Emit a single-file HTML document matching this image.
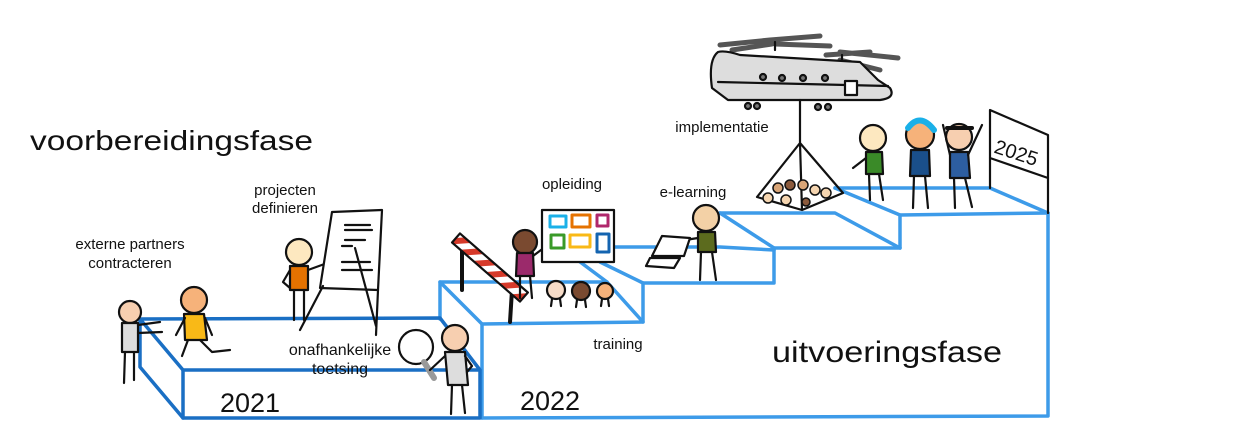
<!DOCTYPE html>
<html><head><meta charset="utf-8"><style>
html,body{margin:0;padding:0;background:#fff;width:1250px;height:448px;overflow:hidden}
svg{display:block}
text{font-family:"Liberation Sans",sans-serif;fill:#111}
</style></head><body>
<svg width="1250" height="448" viewBox="0 0 1250 448" xmlns="http://www.w3.org/2000/svg">
<defs>
<pattern id="stripe" width="12" height="12" patternUnits="userSpaceOnUse" patternTransform="rotate(45)">
<rect width="12" height="12" fill="#fff"/><rect width="6" height="12" fill="#d63a2a"/>
</pattern>
</defs>
<g fill="none" stroke-linejoin="round" stroke-linecap="round">
<!-- light blue stairs -->
<g stroke="#3d9be9" stroke-width="3.5">
<path d="M482 418 L1048 416 L1048 213"/>
<path d="M440 319 L440 282 L482 324 L482 418"/>
<path d="M440 282 L607 282 L643 322 L482 324"/>
<path d="M643 322 L643 283 L774 283 L774 248 L900 248 L900 215 L1048 213"/>
<path d="M580 247 L720 247 L774 250"/>
<path d="M560 247 L607 282"/>
<path d="M643 283 L600 262"/>
<path d="M720 213 L835 213 L900 248"/>
<path d="M720 213 L774 248"/>
<path d="M835 188 L990 188 L1048 213"/>
<path d="M835 188 L900 215"/>
</g>
<!-- dark blue box -->
<g stroke="#1a6fc4" stroke-width="3.5">
<path d="M140 319 L440 318 L480 370 L183 370 L140 319 L140 367 L183 418 L480 418 L480 370"/>
<path d="M183 370 L183 418"/>
</g>
<g stroke="#111" stroke-width="2.2">
<!-- person 1 -->
<circle cx="130" cy="312" r="11" fill="#f7cfb0"/>
<path d="M122 323 L138 323 L138 352 L122 352 Z" fill="#ddd"/>
<path d="M125 352 L124 383 M134 352 L134 380 M138 325 L160 322 M138 333 L162 332"/>
<!-- person 2 -->
<circle cx="194" cy="300" r="13" fill="#f6b27a"/>
<path d="M184 314 L204 314 L207 340 L185 340 Z" fill="#f9b917"/>
<path d="M188 340 L182 356 M200 340 L212 352 L230 350 M185 318 L176 335 M205 318 L212 335"/>
<!-- person 3 -->
<circle cx="299" cy="252" r="13" fill="#fde8c0"/>
<path d="M290 266 L308 266 L308 290 L290 290 Z" fill="#e57200"/>
<path d="M294 290 L294 320 M304 290 L304 320 M308 270 L330 262 M290 270 L283 282 L290 288"/>
<!-- flipchart -->
<path d="M332 212 L382 210 L378 290 L320 288 Z" fill="#fff"/>
<path d="M323 286 L300 330 M378 290 L376 335 M355 248 L376 326"/>
<path d="M345 225 L370 225 M345 230 L372 230 M345 240 L365 240 M342 246 L352 246 M342 262 L370 262 M342 270 L372 270"/>
<!-- magnifier & person -->
<circle cx="416" cy="347" r="17" fill="#fff"/>
<path d="M424 362 L434 378" stroke-width="6" stroke="#999"/>
<circle cx="455" cy="338" r="13" fill="#f7cfb0"/>
<path d="M445 352 L465 352 L468 385 L448 385 Z" fill="#ddd"/>
<path d="M452 385 L451 414 M462 385 L465 413 M445 356 L430 370 M465 356 L472 366 L467 372"/>
<!-- barrier -->
<path d="M462 244 L462 290 M512 290 L510 322" stroke-width="4"/>
<rect x="0" y="-6" width="90" height="12" fill="url(#stripe)" transform="translate(456 238) rotate(41)"/>
<!-- opleiding person -->
<circle cx="525" cy="242" r="12" fill="#7a4a30"/>
<path d="M517 253 L533 253 L534 276 L516 276 Z" fill="#9b2a6b"/>
<path d="M520 276 L520 298 M530 276 L532 298 M533 256 L545 247"/>
<!-- board -->
<rect x="542" y="210" width="72" height="52" fill="#fff"/>
<g stroke-width="3"><rect x="550" y="216" width="16" height="11" stroke="#1ab0e8"/><rect x="572" y="215" width="18" height="12" stroke="#e57200"/><rect x="597" y="215" width="11" height="11" stroke="#b0276c"/><rect x="551" y="235" width="13" height="13" stroke="#3a9a28"/><rect x="570" y="235" width="20" height="12" stroke="#f9b917"/><rect x="597" y="234" width="12" height="18" stroke="#1464b0"/></g>
<!-- small audience -->
<circle cx="556" cy="290" r="9" fill="#f7dcc8"/><circle cx="581" cy="291" r="9" fill="#7a4a30"/><circle cx="605" cy="291" r="8" fill="#f6b27a"/>
<path d="M552 299 L551 306 M560 299 L561 306 M577 300 L576 307 M585 300 L586 307 M602 299 L601 306 M608 299 L609 306"/>
<!-- e-learning -->
<circle cx="706" cy="218" r="13" fill="#f3d1a6"/>
<path d="M698 232 L715 232 L716 252 L698 252 Z" fill="#5c6b1e"/>
<path d="M701 252 L700 280 M712 252 L716 280 M698 238 L685 240"/>
<path d="M662 236 L690 238 L684 256 L652 256 Z M650 258 L680 258 L674 268 L646 266 Z" fill="#fff"/>
<!-- helicopter -->
<path d="M720 45 L770 40 M770 40 L820 36 M732 50 L772 44 M775 44 L830 46 M826 55 L870 52 M840 52 L898 58 M840 60 L880 70" stroke-width="5" stroke="#555"/>
<path d="M775 42 L775 50 M842 55 L842 63"/>
<path d="M718 52 Q708 60 712 88 L728 100 L880 100 Q896 98 890 88 L878 80 L860 62 L740 55 Q725 50 718 52 Z" fill="#ddd"/>
<path d="M718 82 L888 86"/>
<circle cx="763" cy="77" r="3" fill="#777"/><circle cx="782" cy="78" r="3" fill="#777"/><circle cx="803" cy="78" r="3" fill="#777"/><circle cx="825" cy="78" r="3" fill="#777"/>
<rect x="845" y="81" width="12" height="14" fill="#fff"/>
<circle cx="748" cy="106" r="3" fill="#777"/><circle cx="757" cy="106" r="3" fill="#777"/><circle cx="818" cy="107" r="3" fill="#777"/><circle cx="828" cy="107" r="3" fill="#777"/>
<!-- net -->
<path d="M800 100 L800 143 M800 143 L757 197 L802 210 L843 193 Z M800 143 L802 210"/>
<g fill="#d9a577" stroke-width="1.5"><circle cx="778" cy="188" r="5"/><circle cx="790" cy="185" r="5" fill="#8b5a3c"/><circle cx="803" cy="185" r="5"/><circle cx="815" cy="190" r="5" fill="#f5d5b0"/><circle cx="826" cy="193" r="5" fill="#f5d5b0"/><circle cx="768" cy="198" r="5" fill="#f5d5b0"/><circle cx="786" cy="200" r="5" fill="#f5d5b0"/><circle cx="806" cy="202" r="4" fill="#8b5a3c"/></g>
<!-- top people -->
<circle cx="873" cy="138" r="13" fill="#fde8c0"/>
<path d="M866 152 L882 152 L883 174 L866 174 Z" fill="#3a8a28"/>
<path d="M869 174 L870 200 M879 174 L883 200 M866 158 L853 168"/>
<circle cx="920" cy="135" r="14" fill="#f6b27a"/><path d="M908 128 Q920 112 934 130" stroke="#1ab0e8" stroke-width="6"/>
<path d="M911 150 L929 150 L930 176 L910 176 Z" fill="#1a4f8a"/>
<path d="M914 176 L913 208 M925 176 L928 208"/>
<circle cx="959" cy="137" r="13" fill="#f7cfb0"/><path d="M947 128 L972 128" stroke-width="4"/>
<path d="M950 152 L968 152 L970 178 L950 178 Z" fill="#2d5ea0"/>
<path d="M954 178 L955 208 M965 178 L972 207 M950 155 L943 125 M968 155 L982 125"/>
<!-- 2025 sign -->
<path d="M990 110 L1048 135 L1048 178 L990 158 Z" fill="#fff"/>
<path d="M990 158 L990 188 M1048 178 L1048 213"/>
</g>
</g>
<text x="30" y="150" font-size="28" textLength="283" lengthAdjust="spacingAndGlyphs">voorbereidingsfase</text>
<text x="772" y="362" font-size="30" textLength="230" lengthAdjust="spacingAndGlyphs">uitvoeringsfase</text>
<text x="220" y="412" font-size="27">2021</text>
<text x="520" y="410" font-size="27">2022</text>
<text x="995" y="160" font-size="20" transform="rotate(18 1018 150)">2025</text>
<g font-size="15" text-anchor="middle">
<text x="130" y="249">externe partners</text>
<text x="130" y="268">contracteren</text>
<text x="285" y="195">projecten</text>
<text x="285" y="213">definieren</text>
<text x="572" y="189">opleiding</text>
<text x="693" y="197">e-learning</text>
<text x="722" y="132">implementatie</text>
<text x="618" y="349">training</text>
<text x="340" y="355" font-size="16">onafhankelijke</text>
<text x="340" y="374" font-size="16">toetsing</text>
</g>
</svg>
</body></html>
